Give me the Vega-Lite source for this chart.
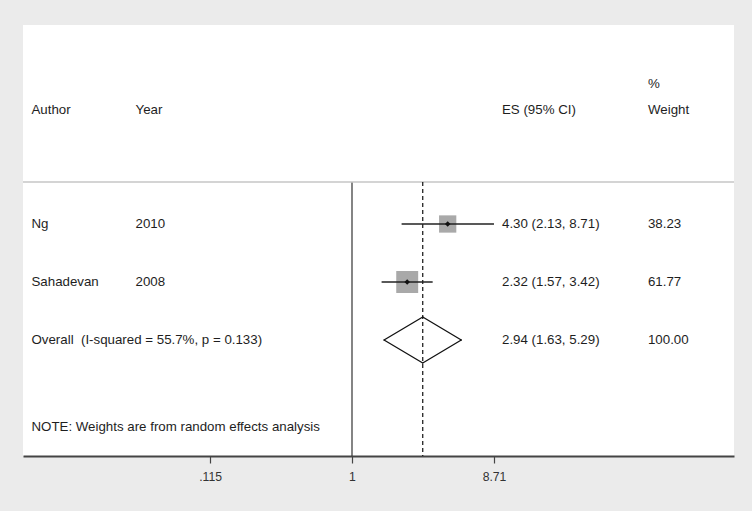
{
  "$schema": "https://vega.github.io/schema/vega-lite/v6.json",
  "width": 711,
  "height": 431,
  "autosize": {"type": "none"},
  "padding": {"left": 23, "top": 25, "right": 18, "bottom": 55},
  "background": "#ebebeb",
  "config": {
    "view": {"fill": "white", "stroke": null},
    "font": "Liberation Sans",
    "text": {"font": "Liberation Sans", "fontSize": 13.3, "color": "#1e1e1e", "baseline": "middle", "align": "left"},
    "axisX": {"grid": false, "domainColor": "#444", "domainWidth": 1.8, "tickColor": "#444", "tickSize": 7, "tickWidth": 1.2, "labelFontSize": 12.2, "labelColor": "#333", "labelFont": "Liberation Sans", "labelPadding": 7}
  },
  "datasets": {
    "studies": [
      {"Author": "Ng", "Year": "2010", "row": 1, "es": 4.30, "lo": 2.13, "hi": 8.71, "esci": "4.30 (2.13, 8.71)", "weight": 38.23},
      {"Author": "Sahadevan", "Year": "2008", "row": 2, "es": 2.32, "lo": 1.57, "hi": 3.42, "esci": "2.32 (1.57, 3.42)", "weight": 61.77},
      {"Author": "Overall \u00a0(I-squared = 55.7%, p = 0.133)", "Year": "", "row": 3, "es": 2.94, "lo": 1.63, "hi": 5.29, "esci": "2.94 (1.63, 5.29)", "weight": 100.00}
    ]
  },
  "layer": [
    {
      "data": {"values": [{"ref": 1}]},
      "mark": {"type": "rule", "color": "#333", "strokeWidth": 1.2},
      "encoding": {
        "x": {"field": "ref", "type": "quantitative", "scale": {"type": "log", "domain": [0.006635, 338.1], "nice": false},
          "axis": {"values": [0.115, 1, 8.71], "format": ".3~g", "labelExpr": "datum.value < 1 ? substring(datum.label, 1) : datum.label", "title": null}},
        "y": {"datum": 0.276, "type": "quantitative", "scale": {"domain": [-2.431, 5], "reverse": true, "nice": false, "zero": false}, "axis": null},
        "y2": {"datum": 5}
      }
    },
    {
      "data": {"values": [{}]},
      "mark": {"type": "rule", "color": "#c6c6c6", "strokeWidth": 1.6},
      "encoding": {
        "y": {"datum": 0.276, "type": "quantitative", "scale": {"domain": [-2.431, 5], "reverse": true, "nice": false, "zero": false}, "axis": null}
      }
    },
    {
      "data": {"name": "studies"},
      "transform": [{"filter": "datum.row == 3"}],
      "mark": {"type": "rule", "color": "#111", "strokeWidth": 1.2, "strokeDash": [4, 3]},
      "encoding": {
        "x": {"field": "es", "type": "quantitative", "scale": {"type": "log", "domain": [0.006635, 338.1], "nice": false}, "axis": {"title": null}},
        "y": {"datum": 0.276, "type": "quantitative", "scale": {"domain": [-2.431, 5], "reverse": true, "nice": false, "zero": false}, "axis": null},
        "y2": {"datum": 5}
      }
    },
    {
      "data": {"name": "studies"},
      "transform": [{"filter": "datum.row < 3"}],
      "mark": {"type": "point", "shape": "square", "filled": true, "color": "#a9a9a9", "opacity": 1},
      "encoding": {
        "x": {"field": "es", "type": "quantitative", "scale": {"type": "log", "domain": [0.006635, 338.1], "nice": false}, "axis": {"title": null}},
        "y": {"field": "row", "type": "quantitative", "scale": {"domain": [-2.431, 5], "reverse": true, "nice": false, "zero": false}, "axis": null},
        "size": {"field": "weight", "type": "quantitative", "scale": {"domain": [0, 100], "range": [0, 780], "zero": true}, "legend": null}
      }
    },
    {
      "data": {"name": "studies"},
      "transform": [{"filter": "datum.row < 3"}],
      "mark": {"type": "rule", "color": "#222", "strokeWidth": 1.5},
      "encoding": {
        "x": {"field": "lo", "type": "quantitative", "scale": {"type": "log", "domain": [0.006635, 338.1], "nice": false}, "axis": {"title": null}},
        "x2": {"field": "hi"},
        "y": {"field": "row", "type": "quantitative", "scale": {"domain": [-2.431, 5], "reverse": true, "nice": false, "zero": false}, "axis": null}
      }
    },
    {
      "data": {"name": "studies"},
      "transform": [{"filter": "datum.row < 3"}],
      "mark": {"type": "point", "shape": "diamond", "filled": true, "color": "#111", "size": 30, "opacity": 1},
      "encoding": {
        "x": {"field": "es", "type": "quantitative", "scale": {"type": "log", "domain": [0.006635, 338.1], "nice": false}, "axis": {"title": null}},
        "y": {"field": "row", "type": "quantitative", "scale": {"domain": [-2.431, 5], "reverse": true, "nice": false, "zero": false}, "axis": null}
      }
    },
    {
      "data": {"name": "studies"},
      "transform": [{"filter": "datum.row == 3"}],
      "mark": {"type": "rule", "color": "#111", "strokeWidth": 1.3, "strokeCap": "round"},
      "encoding": {
        "x": {"field": "lo", "type": "quantitative", "scale": {"type": "log", "domain": [0.006635, 338.1], "nice": false}, "axis": {"title": null}},
        "x2": {"field": "es"},
        "y": {"field": "row", "type": "quantitative", "scale": {"domain": [-2.431, 5], "reverse": true, "nice": false, "zero": false}, "axis": null},
        "y2": {"datum": 2.603}
      }
    },
    {
      "data": {"name": "studies"},
      "transform": [{"filter": "datum.row == 3"}],
      "mark": {"type": "rule", "color": "#111", "strokeWidth": 1.3, "strokeCap": "round"},
      "encoding": {
        "x": {"field": "hi", "type": "quantitative", "scale": {"type": "log", "domain": [0.006635, 338.1], "nice": false}, "axis": {"title": null}},
        "x2": {"field": "es"},
        "y": {"field": "row", "type": "quantitative", "scale": {"domain": [-2.431, 5], "reverse": true, "nice": false, "zero": false}, "axis": null},
        "y2": {"datum": 2.603}
      }
    },
    {
      "data": {"name": "studies"},
      "transform": [{"filter": "datum.row == 3"}],
      "mark": {"type": "rule", "color": "#111", "strokeWidth": 1.3, "strokeCap": "round"},
      "encoding": {
        "x": {"field": "lo", "type": "quantitative", "scale": {"type": "log", "domain": [0.006635, 338.1], "nice": false}, "axis": {"title": null}},
        "x2": {"field": "es"},
        "y": {"field": "row", "type": "quantitative", "scale": {"domain": [-2.431, 5], "reverse": true, "nice": false, "zero": false}, "axis": null},
        "y2": {"datum": 3.397}
      }
    },
    {
      "data": {"name": "studies"},
      "transform": [{"filter": "datum.row == 3"}],
      "mark": {"type": "rule", "color": "#111", "strokeWidth": 1.3, "strokeCap": "round"},
      "encoding": {
        "x": {"field": "hi", "type": "quantitative", "scale": {"type": "log", "domain": [0.006635, 338.1], "nice": false}, "axis": {"title": null}},
        "x2": {"field": "es"},
        "y": {"field": "row", "type": "quantitative", "scale": {"domain": [-2.431, 5], "reverse": true, "nice": false, "zero": false}, "axis": null},
        "y2": {"datum": 3.397}
      }
    },
    {
      "data": {"name": "studies"},
      "mark": {"type": "text"},
      "encoding": {
        "x": {"datum": 0.00755, "type": "quantitative", "scale": {"type": "log", "domain": [0.006635, 338.1], "nice": false}, "axis": {"title": null}},
        "y": {"field": "row", "type": "quantitative", "scale": {"domain": [-2.431, 5], "reverse": true, "nice": false, "zero": false}, "axis": null},
        "text": {"field": "Author"}
      }
    },
    {
      "data": {"name": "studies"},
      "mark": {"type": "text"},
      "encoding": {
        "x": {"datum": 0.0369, "type": "quantitative", "scale": {"type": "log", "domain": [0.006635, 338.1], "nice": false}, "axis": {"title": null}},
        "y": {"field": "row", "type": "quantitative", "scale": {"domain": [-2.431, 5], "reverse": true, "nice": false, "zero": false}, "axis": null},
        "text": {"field": "Year"}
      }
    },
    {
      "data": {"name": "studies"},
      "mark": {"type": "text"},
      "encoding": {
        "x": {"datum": 9.84, "type": "quantitative", "scale": {"type": "log", "domain": [0.006635, 338.1], "nice": false}, "axis": {"title": null}},
        "y": {"field": "row", "type": "quantitative", "scale": {"domain": [-2.431, 5], "reverse": true, "nice": false, "zero": false}, "axis": null},
        "text": {"field": "esci"}
      }
    },
    {
      "data": {"name": "studies"},
      "mark": {"type": "text"},
      "encoding": {
        "x": {"datum": 91.1, "type": "quantitative", "scale": {"type": "log", "domain": [0.006635, 338.1], "nice": false}, "axis": {"title": null}},
        "y": {"field": "row", "type": "quantitative", "scale": {"domain": [-2.431, 5], "reverse": true, "nice": false, "zero": false}, "axis": null},
        "text": {"field": "weight", "format": ".2f"}
      }
    },
    {
      "data": {"values": [{"t": "Author", "c": 0.00755}, {"t": "Year", "c": 0.0369}, {"t": "ES (95% CI)", "c": 9.84}, {"t": "Weight", "c": 91.1}]},
      "mark": {"type": "text"},
      "encoding": {
        "x": {"field": "c", "type": "quantitative", "scale": {"type": "log", "domain": [0.006635, 338.1], "nice": false}, "axis": {"title": null}},
        "y": {"datum": -0.966, "type": "quantitative", "scale": {"domain": [-2.431, 5], "reverse": true, "nice": false, "zero": false}, "axis": null},
        "text": {"field": "t"}
      }
    },
    {
      "data": {"values": [{}]},
      "mark": {"type": "text", "text": "%"},
      "encoding": {
        "x": {"datum": 91.1, "type": "quantitative", "scale": {"type": "log", "domain": [0.006635, 338.1], "nice": false}, "axis": {"title": null}},
        "y": {"datum": -1.414, "type": "quantitative", "scale": {"domain": [-2.431, 5], "reverse": true, "nice": false, "zero": false}, "axis": null}
      }
    },
    {
      "data": {"values": [{}]},
      "mark": {"type": "text", "text": "NOTE: Weights are from random effects analysis"},
      "encoding": {
        "x": {"datum": 0.00755, "type": "quantitative", "scale": {"type": "log", "domain": [0.006635, 338.1], "nice": false}, "axis": {"title": null}},
        "y": {"datum": 4.5, "type": "quantitative", "scale": {"domain": [-2.431, 5], "reverse": true, "nice": false, "zero": false}, "axis": null}
      }
    }
  ]
}
